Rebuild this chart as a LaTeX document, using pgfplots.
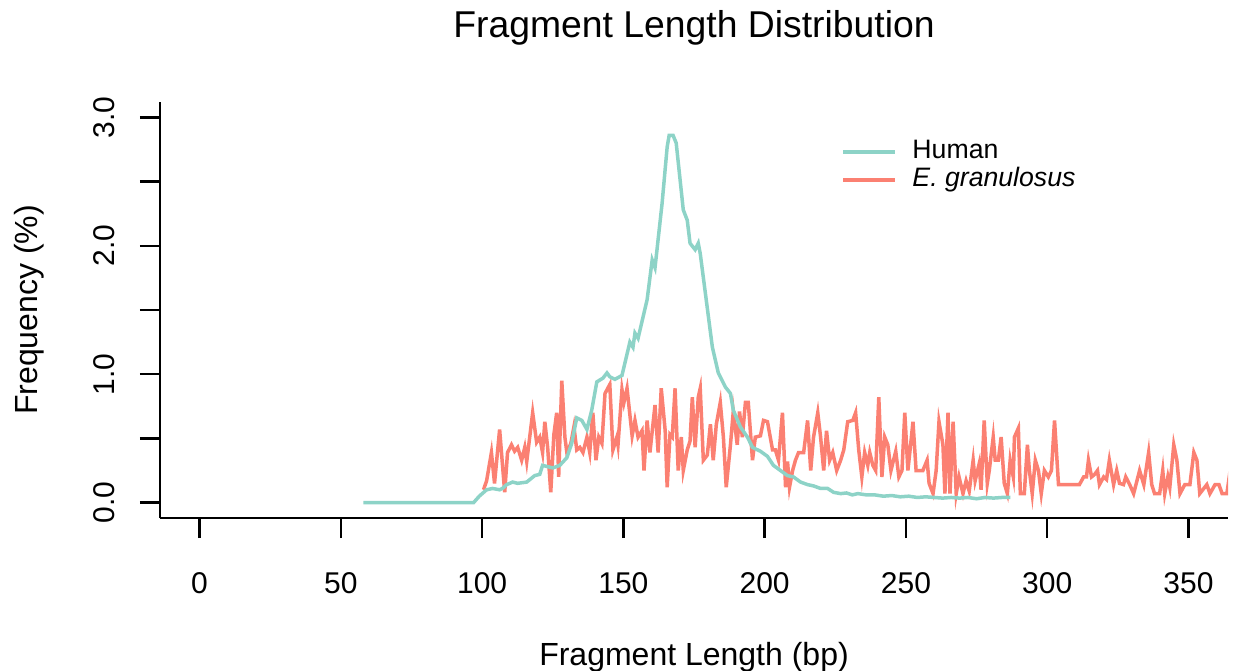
\documentclass[border=0pt]{standalone}
\usepackage{pgfplots}
\pgfplotsset{compat=1.18}
\usepackage{fontspec}
\setmainfont{Liberation Sans}
\definecolor{human}{HTML}{8DD3C7}
\definecolor{egran}{HTML}{FB8072}

\begin{document}
\begin{tikzpicture}
\begin{axis}[
  scale only axis,
  width=320.4pt, height=124.8pt,
  xmin=-14, xmax=364, ymin=-0.12, ymax=3.12,
  axis lines*=left,
  axis line style={line width=0.75pt},
  tick style={line width=0.75pt, black},
  tick align=outside,
  major tick length=6pt,
  xtick={0,50,100,150,200,250,300,350},
  ytick={0,0.5,1,1.5,2,2.5,3},
  yticklabels={0.0,,1.0,,2.0,,3.0},
  /pgf/number format/assume math mode=true,
  xticklabel style={font=\fontsize{9}{10}\selectfont, anchor=base, yshift=-16.6pt},
  yticklabel style={font=\fontsize{9}{10}\selectfont, xshift=-7.5pt, rotate=90, anchor=base},
  title={Fragment Length Distribution},
  title style={at={([yshift=13.4pt]axis description cs:0.5,1)}, anchor=base, font=\fontsize{11.2}{13}\selectfont},
  xlabel={Fragment Length (bp)},
  xlabel style={at={([yshift=-44.1pt]axis description cs:0.5,0)}, anchor=base, font=\fontsize{9.6}{11}\selectfont},
  ylabel={Frequency (\%)},
  every axis y label/.style={at={([xshift=-36.6pt]axis description cs:0,0.5)}, rotate=90, anchor=base, font=\fontsize{9.6}{11}\selectfont},
  legend style={draw=none, fill=none, at={(0.6376,0.915)}, anchor=north west, inner sep=0pt,
    font=\fontsize{8}{9.6}\selectfont, row sep=0pt,
    nodes={inner sep=0pt, text height=6pt, text depth=2.4pt},
    /tikz/every odd column/.style={column sep=4.6pt}},
  legend cell align=left,
  legend image code/.code={\draw[#1] (0pt,0pt) -- (15.6pt,0pt);},
]
\addlegendimage{human, line width=1.05pt}
\addlegendentry{Human}
\addlegendimage{egran, line width=1.05pt}
\addlegendentry{\textit{E. granulosus}}

% E. granulosus
\addplot[egran, line width=1.05pt, forget plot] coordinates {
(100.5,0.10)(101.6,0.17)(103.3,0.39)(104.4,0.15)(106.2,0.57)(108.0,0.08)(109.0,0.39)(110.4,0.45)
(111.5,0.40)(112.6,0.43)(114.0,0.33)(115.1,0.43)(115.8,0.32)(117.9,0.70)(119.3,0.47)(120.4,0.51)
(121.4,0.39)(122.2,0.63)(123.2,0.43)(124.3,0.08)(125.4,0.53)(126.4,0.70)(127.1,0.20)(128.2,0.95)
(129.3,0.51)(130.0,0.39)(131.4,0.46)(132.5,0.59)(133.5,0.41)(134.6,0.43)(135.7,0.39)(137.1,0.51)
(138.1,0.39)(139.2,0.70)(140.3,0.33)(141.3,0.51)(142.4,0.46)(143.5,0.85)(145.2,0.92)(146.3,0.41)
(147.7,0.51)(148.1,0.45)(149.5,0.88)(150.2,0.78)(151.3,0.89)(153.1,0.52)(154.1,0.64)(155.2,0.51)
(156.6,0.56)(157.3,0.25)(158.4,0.64)(159.4,0.39)(161.2,0.76)(162.3,0.39)(163.4,0.89)(164.8,0.56)
(165.5,0.12)(166.5,0.53)(167.3,0.51)(168.3,0.89)(169.4,0.25)(170.5,0.51)(171.2,0.25)(172.6,0.41)
(173.6,0.48)(174.4,0.82)(175.4,0.43)(176.5,0.82)(177.2,0.89)(178.3,0.33)(179.7,0.37)(180.8,0.61)
(181.8,0.33)(182.9,0.61)(184.3,0.78)(185.4,0.51)(186.4,0.12)(187.9,0.45)(188.9,0.71)(190.3,0.45)
(191.1,0.71)(192.1,0.51)(193.2,0.78)(194.2,0.78)(195.7,0.33)(196.7,0.51)(198.5,0.52)(199.6,0.64)
(201.0,0.63)(202.8,0.41)(203.8,0.41)(204.9,0.33)(206.3,0.70)(207.4,0.12)(208.1,0.32)(208.8,0.12)
(209.9,0.25)(210.9,0.33)(212.0,0.39)(213.8,0.39)(215.2,0.64)(216.3,0.25)(217.3,0.51)(218.8,0.70)
(219.8,0.51)(220.9,0.25)(221.9,0.56)(223.0,0.33)(224.1,0.39)(225.5,0.25)(226.9,0.33)(228.0,0.41)
(229.4,0.63)(231.2,0.64)(232.2,0.70)(233.3,0.41)(234.4,0.20)(235.4,0.39)(236.5,0.29)(237.2,0.39)
(238.3,0.29)(239.3,0.25)(240.4,0.82)(241.5,0.20)(242.5,0.51)(243.6,0.45)(244.7,0.25)(246.4,0.40)
(247.5,0.20)(248.6,0.25)(249.6,0.70)(250.7,0.25)(251.8,0.48)(252.5,0.63)(253.6,0.25)(256.0,0.25)
(257.5,0.33)(258.2,0.15)(259.6,0.07)(260.7,0.25)(261.7,0.63)(263.1,0.45)(263.8,0.07)(264.9,0.70)
(265.6,0.07)(266.7,0.63)(267.8,0.07)(268.8,0.20)(270.2,0.07)(271.3,0.17)(272.4,0.09)(273.8,0.33)
(274.5,0.17)(275.9,0.30)(276.6,0.10)(277.7,0.64)(278.8,0.15)(279.5,0.25)(280.9,0.51)(281.6,0.33)
(282.7,0.33)(283.7,0.51)(284.8,0.15)(285.9,0.07)(286.9,0.33)(288.0,0.20)(288.4,0.51)(289.8,0.58)
(290.5,0.07)(291.9,0.07)(293.0,0.45)(293.7,0.25)(294.7,0.07)(295.8,0.33)(296.9,0.25)(297.9,0.07)
(299.0,0.25)(300.4,0.20)(301.5,0.25)(302.6,0.64)(304.0,0.14)(311.4,0.14)(312.9,0.20)(313.9,0.20)
(314.6,0.33)(315.7,0.20)(316.8,0.22)(317.8,0.25)(318.5,0.14)(320.0,0.20)(321.0,0.18)(322.0,0.33)
(323.5,0.14)(324.6,0.25)(325.6,0.15)(327.0,0.14)(327.8,0.20)(329.2,0.14)(330.6,0.07)(332.7,0.25)
(334.2,0.14)(335.9,0.39)(337.0,0.14)(338.0,0.07)(339.8,0.07)(340.9,0.25)(341.6,0.07)(342.7,0.20)
(343.4,0.12)(344.8,0.45)(345.9,0.33)(347.0,0.07)(348.7,0.14)(350.5,0.14)(351.9,0.39)(353.0,0.33)
(354.0,0.07)(356.5,0.14)(357.6,0.07)(359.4,0.14)(360.8,0.14)(361.9,0.07)(363.6,0.07)(365.0,0.29)
(366.0,0.30)
};

% Human
\addplot[human, line width=1.05pt, forget plot] coordinates {
(58,0)(97,0)(99,0.05)(101.6,0.10)(103.7,0.11)(106.2,0.10)(107.2,0.11)(108.7,0.14)(110.8,0.16)
(112.6,0.15)(115.8,0.16)(118.6,0.21)(120.4,0.22)(121.4,0.29)(123.2,0.28)(125,0.27)(127.5,0.29)
(130,0.35)(131.7,0.46)(133.5,0.66)(135.3,0.64)(137.1,0.57)(138.8,0.72)(140.6,0.94)(142.8,0.97)
(144.2,1.01)(145.2,0.98)(147,0.96)(149.5,0.99)(152.3,1.25)(153.4,1.21)(154.1,1.32)(155.2,1.28)
(158.4,1.58)(160.2,1.89)(161.2,1.83)(163.7,2.33)(165.5,2.77)(166.2,2.86)(167.6,2.86)(168.7,2.80)
(171.2,2.28)(172.6,2.20)(173.6,2.02)(175.4,1.97)(176.5,2.02)(177.2,1.94)(181.5,1.21)(183.6,1.01)
(186.1,0.90)(187.9,0.85)(188.9,0.72)(191.4,0.59)(193.9,0.51)(195.7,0.43)(198.5,0.40)(201,0.36)
(203.1,0.29)(205.6,0.25)(208.1,0.21)(210.2,0.20)(212.7,0.16)(215.2,0.14)(217.3,0.13)(219.8,0.11)
(222.3,0.11)(224.4,0.08)(226.9,0.07)(229,0.075)(231,0.06)(233,0.07)(236,0.06)(239,0.06)
(242,0.05)(245,0.055)(248,0.045)(251,0.05)(254,0.04)(257,0.045)(260,0.04)(263,0.035)
(266,0.04)(269,0.035)(272,0.04)(275,0.03)(278,0.04)(281,0.035)(284,0.04)(287,0.04)
};
\end{axis}
\pgfresetboundingbox
\path[use as bounding box] (-48pt,-45.6pt) rectangle (323.4pt,155.4pt);
\end{tikzpicture}
\end{document}
